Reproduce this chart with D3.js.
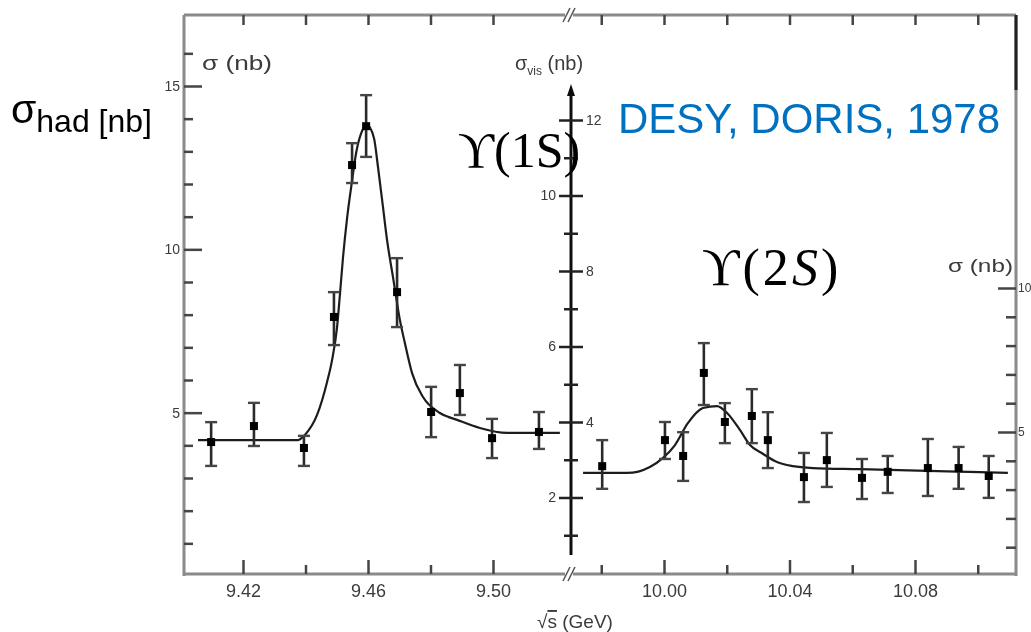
<!DOCTYPE html>
<html>
<head>
<meta charset="utf-8">
<script src="https://cdn.jsdelivr.net/npm/d3@7"></script>
<style>
  html, body { margin: 0; padding: 0; background: #fff; }
  svg { display: block; }
  .scan text { font-family: "Liberation Sans", Arial, sans-serif; fill: #3a3a3a; }
</style>
</head>
<body>
<svg id="chart" width="1031" height="632"></svg>
<script>
// Upsilon(1S) region: sqrt(s) [GeV], sigma_had [nb] with error bar limits
const energyA  = [9.4098, 9.4235, 9.4395, 9.4491, 9.4549, 9.4594, 9.4693, 9.4802, 9.4894, 9.4997, 9.5147];
const sigmaA   = [4.10, 4.59, 3.92, 7.93, 12.58, 13.77, 8.69, 5.02, 5.60, 4.22, 4.41];
const sigmaAHi = [4.71, 5.30, 4.29, 8.69, 13.25, 14.72, 9.73, 5.79, 6.46, 4.81, 5.02];
const sigmaALo = [3.37, 3.98, 3.37, 7.07, 12.03, 12.83, 7.62, 4.25, 4.93, 3.61, 3.89];

// Fitted resonance curve, Upsilon(1S)
const fitEA = [9.4056, 9.4376, 9.4398, 9.4437, 9.4469, 9.4485, 9.4501, 9.4510, 9.4520, 9.4533, 9.4549,
               9.4562, 9.4578, 9.4597, 9.4619, 9.4632, 9.4648, 9.4661, 9.4680, 9.4702, 9.4718, 9.4741,
               9.4776, 9.4830, 9.4885, 9.4958, 9.5045, 9.5214];
const fitSA = [4.16, 4.16, 4.32, 4.93, 5.94, 6.61, 7.62, 8.60, 9.75, 10.95, 12.10,
               12.95, 13.55, 13.80, 13.41, 12.52, 11.29, 10.28, 9.15, 7.84, 7.13, 6.21,
               5.48, 4.99, 4.78, 4.53, 4.38, 4.38];

// Upsilon(2S) region: sqrt(s) [GeV], sigma_vis [nb] with error bar limits
const energyB  = [9.9803, 10.0003, 10.0061, 10.0127, 10.0194, 10.0280, 10.0331, 10.0446, 10.0519, 10.0631, 10.0713, 10.0841, 10.0939, 10.1035];
const sigmaB   = [2.83, 3.52, 3.10, 5.30, 4.00, 4.16, 3.52, 2.54, 2.99, 2.52, 2.68, 2.78, 2.78, 2.57];
const sigmaBHi = [3.52, 4.00, 3.73, 6.09, 4.50, 4.87, 4.26, 3.18, 3.71, 3.02, 3.10, 3.55, 3.34, 3.10];
const sigmaBLo = [2.23, 3.02, 2.44, 4.45, 3.44, 3.44, 2.78, 1.88, 2.28, 1.96, 2.12, 2.04, 2.23, 1.99];

// Fitted resonance curve, Upsilon(2S)
const fitEB = [9.9742, 9.9882, 9.9955, 9.9997, 10.0035, 10.0076, 10.0124, 10.0169, 10.0201, 10.0242,
               10.0274, 10.0315, 10.0360, 10.0411, 10.0475, 10.0624, 10.1096];
const fitSB = [2.65, 2.65, 2.81, 3.05, 3.39, 3.97, 4.37, 4.42, 4.24, 3.79,
               3.39, 3.16, 2.94, 2.83, 2.78, 2.75, 2.65];

// Axis ticks and labels
const ticksXA  = [9.42, 9.44, 9.46, 9.48, 9.50];
const labelsXA = ["9.42", "", "9.46", "", "9.50"];
const ticksXB  = [9.98, 10.00, 10.02, 10.04, 10.06, 10.08, 10.10];
const labelsXB = ["", "10.00", "", "10.04", "", "10.08", ""];
const ticksYA  = [5, 10, 15];
const ticksYV  = [2, 4, 6, 8, 10, 12];
const ticksYN  = [5, 10];

const svg = d3.select("#chart");

// soft scan look for the original plot
const defs = svg.append("defs");
defs.append("filter").attr("id", "soft")
  .attr("x", "-5%").attr("y", "-5%").attr("width", "110%").attr("height", "110%")
  .append("feGaussianBlur").attr("stdDeviation", 0.6);

// Frame geometry
const fLeft = 184, fRight = 1016, fTop = 15, fBottom = 574, breakX = 569, midX = 571;

const xA = d3.scaleLinear().domain([9.42, 9.50]).range([243, 493]);
const xB = d3.scaleLinear().domain([10.00, 10.08]).range([664, 915]);
const yA = d3.scaleLinear().domain([0, 15]).range([576, 86]);
const yV = d3.scaleLinear().domain([0, 12]).range([573, 120]);
const yN = d3.scaleLinear().domain([0, 10]).range([576, 288]);

const g = svg.append("g").attr("class", "scan").attr("filter", "url(#soft)");

function styleAxis(sel, color) {
  sel.select(".domain").remove();
  sel.selectAll(".tick line").attr("stroke", color || "#444").attr("stroke-width", 2.5);
  sel.selectAll(".tick text").attr("fill", "#4a4a4a").attr("font-family", "Liberation Sans, Arial, sans-serif");
}

// frame lines
const frame = g.append("g").attr("stroke", "#8a8a8a").attr("stroke-width", 3).attr("fill", "none");
frame.append("line").attr("x1", fLeft).attr("x2", fLeft).attr("y1", fTop).attr("y2", fBottom + 2);
frame.append("line").attr("x1", fRight).attr("x2", fRight).attr("y1", fTop).attr("y2", fBottom + 2);
frame.append("line").attr("x1", fLeft).attr("x2", breakX - 4).attr("y1", fTop).attr("y2", fTop);
frame.append("line").attr("x1", breakX + 4).attr("x2", fRight).attr("y1", fTop).attr("y2", fTop);
frame.append("line").attr("x1", fLeft).attr("x2", breakX - 4).attr("y1", fBottom).attr("y2", fBottom);
frame.append("line").attr("x1", breakX + 4).attr("x2", fRight).attr("y1", fBottom).attr("y2", fBottom);
frame.append("line").attr("x1", fRight).attr("x2", fRight).attr("y1", fTop).attr("y2", 90).attr("stroke", "#222");

// axis break marks
const brk = g.append("g").attr("stroke", "#555").attr("stroke-width", 1.6);
[-3, 2].forEach(dx => {
  brk.append("line").attr("x1", breakX + dx - 3).attr("y1", fTop + 7).attr("x2", breakX + dx + 4).attr("y2", fTop - 7);
  brk.append("line").attr("x1", breakX + dx - 3).attr("y1", fBottom + 7).attr("x2", breakX + dx + 4).attr("y2", fBottom - 7);
});

// bottom axes (ticks pointing up)
function bottomAxis(scale, vals, labels) {
  const ax = g.append("g").attr("transform", `translate(0,${fBottom})`)
    .call(d3.axisBottom(scale).tickValues(vals).tickSizeInner(-12).tickSizeOuter(0).tickPadding(10)
      .tickFormat((d, i) => labels[i]));
  styleAxis(ax);
  ax.selectAll(".tick line").attr("y2", (d, i) => labels[i] ? -14 : -9);
  ax.selectAll(".tick text").attr("font-size", 18);
}
bottomAxis(xA, ticksXA, labelsXA);
bottomAxis(xB, ticksXB, labelsXB);

// top axes (ticks pointing down, no labels)
function topAxis(scale, vals) {
  const ax = g.append("g").attr("transform", `translate(0,${fTop})`)
    .call(d3.axisTop(scale).tickValues(vals).tickSizeInner(-10).tickSizeOuter(0).tickFormat(""));
  styleAxis(ax);
}
topAxis(xA, ticksXA);
topAxis(xB, ticksXB);

// left axis: sigma (nb)
const axL = g.append("g").attr("transform", `translate(${fLeft},0)`)
  .call(d3.axisLeft(yA).tickValues(ticksYA).tickSizeInner(-18).tickSizeOuter(0).tickPadding(4).tickFormat(d3.format("d")));
styleAxis(axL);
axL.selectAll(".tick text").attr("font-size", 14);
const axLm = g.append("g").attr("transform", `translate(${fLeft},0)`)
  .call(d3.axisLeft(yA).tickValues(d3.range(1, 17).filter(v => v % 5)).tickSizeInner(-9).tickSizeOuter(0).tickFormat(""));
styleAxis(axLm);

// right axis: sigma (nb)
const axR = g.append("g").attr("transform", `translate(${fRight},0)`)
  .call(d3.axisRight(yN).tickValues(ticksYN).tickSizeInner(-18).tickSizeOuter(0).tickPadding(2).tickFormat(d3.format("d")));
styleAxis(axR);
axR.selectAll(".tick text").attr("font-size", 12);
const axRm = g.append("g").attr("transform", `translate(${fRight},0)`)
  .call(d3.axisRight(yN).tickValues(d3.range(1, 11).filter(v => v % 5)).tickSizeInner(-10).tickSizeOuter(0).tickFormat(""));
styleAxis(axRm);

// middle axis: sigma_vis (nb)
g.append("line").attr("x1", midX).attr("x2", midX).attr("y1", 92).attr("y2", 555)
  .attr("stroke", "#111").attr("stroke-width", 3);
g.append("path").attr("d", `M${midX},84 L${midX - 4},96 L${midX + 4},96 Z`).attr("fill", "#111");
const axM = g.append("g").attr("transform", `translate(${midX},0)`)
  .call(d3.axisRight(yV).tickValues(ticksYV).tickSizeInner(12).tickSizeOuter(0).tickFormat(d3.format("d")));
styleAxis(axM, "#222");
axM.selectAll(".tick line").attr("x1", -12);
axM.selectAll(".tick text").attr("font-size", 14)
  .attr("x", d => (d % 4 === 0) ? 15 : -15)
  .attr("text-anchor", d => (d % 4 === 0) ? "start" : "end");
const axMm = g.append("g").attr("transform", `translate(${midX},0)`)
  .call(d3.axisRight(yV).tickValues(d3.range(1, 12, 2)).tickSizeInner(7).tickSizeOuter(0).tickFormat(""));
styleAxis(axMm, "#222");
axMm.selectAll(".tick line").attr("x1", -7);

// fit curves
const lineA = d3.line().x((d, i) => xA(fitEA[i])).y(d => yA(d)).curve(d3.curveMonotoneX);
const lineB = d3.line().x((d, i) => xB(fitEB[i])).y(d => yV(d)).curve(d3.curveMonotoneX);
g.append("path").attr("d", lineA(fitSA)).attr("fill", "none").attr("stroke", "#1e1e1e").attr("stroke-width", 2.2);
g.append("path").attr("d", lineB(fitSB)).attr("fill", "none").attr("stroke", "#1e1e1e").attr("stroke-width", 2.2);

// data points with error bars
function points(xs, ys, his, los, xScale, yScale) {
  const pg = g.append("g");
  const pts = pg.selectAll("g").data(ys).join("g");
  pts.append("line")
    .attr("x1", (d, i) => xScale(xs[i])).attr("x2", (d, i) => xScale(xs[i]))
    .attr("y1", (d, i) => yScale(his[i])).attr("y2", (d, i) => yScale(los[i]))
    .attr("stroke", "#2a2a2a").attr("stroke-width", 2.6);
  [his, los].forEach(arr => {
    pts.append("line")
      .attr("x1", (d, i) => xScale(xs[i]) - 6).attr("x2", (d, i) => xScale(xs[i]) + 6)
      .attr("y1", (d, i) => yScale(arr[i])).attr("y2", (d, i) => yScale(arr[i]))
      .attr("stroke", "#444").attr("stroke-width", 2.4);
  });
  pts.append("rect")
    .attr("x", (d, i) => xScale(xs[i]) - 4).attr("y", d => yScale(d) - 4)
    .attr("width", 8).attr("height", 8).attr("fill", "#000");
}
points(energyA, sigmaA, sigmaAHi, sigmaALo, xA, yA);
points(energyB, sigmaB, sigmaBHi, sigmaBLo, xB, yV);

// axis titles from the original plot
g.append("text").attr("x", 202).attr("y", 70).attr("font-size", 20)
  .attr("textLength", 70).attr("lengthAdjust", "spacingAndGlyphs").text("σ (nb)");
const t2 = g.append("text").attr("x", 515).attr("y", 70).attr("font-size", 20);
t2.append("tspan").text("σ");
t2.append("tspan").attr("font-size", 12).attr("dy", 5).text("vis");
t2.append("tspan").attr("dy", -5).text(" (nb)");
g.append("text").attr("x", 948).attr("y", 272).attr("font-size", 18)
  .attr("textLength", 65).attr("lengthAdjust", "spacingAndGlyphs").text("σ (nb)");
const t4 = g.append("text").attr("x", 537).attr("y", 628).attr("font-size", 19);
t4.append("tspan").text("√");
t4.append("tspan").style("text-decoration", "overline").text("s");
t4.append("tspan").text(" (GeV)");

// overlay annotations
const lab = svg.append("text").attr("x", 11).attr("y", 123)
  .attr("font-family", "Liberation Sans, Arial, sans-serif").attr("fill", "#000");
lab.append("tspan").attr("font-size", 41).text("σ");
lab.append("tspan").attr("font-size", 32).attr("dy", 9).text("had [nb]");

svg.append("text").attr("x", 618).attr("y", 133)
  .attr("font-family", "Liberation Sans, Arial, sans-serif").attr("font-size", 42)
  .attr("fill", "#0070C0").text("DESY, DORIS, 1978");

svg.append("text").attr("x", 458).attr("y", 167)
  .attr("font-family", "Liberation Serif, DejaVu Serif, serif").attr("font-size", 50).attr("fill", "#000")
  .text("ϒ(1S)");

const u2 = svg.append("text").attr("x", 702).attr("y", 285)
  .attr("font-family", "Liberation Serif, DejaVu Serif, serif").attr("font-size", 52)
  .attr("letter-spacing", 3).attr("fill", "#000");
u2.append("tspan").text("ϒ(2");
u2.append("tspan").attr("font-style", "italic").text("S");
u2.append("tspan").text(")");
</script>
</body>
</html>
